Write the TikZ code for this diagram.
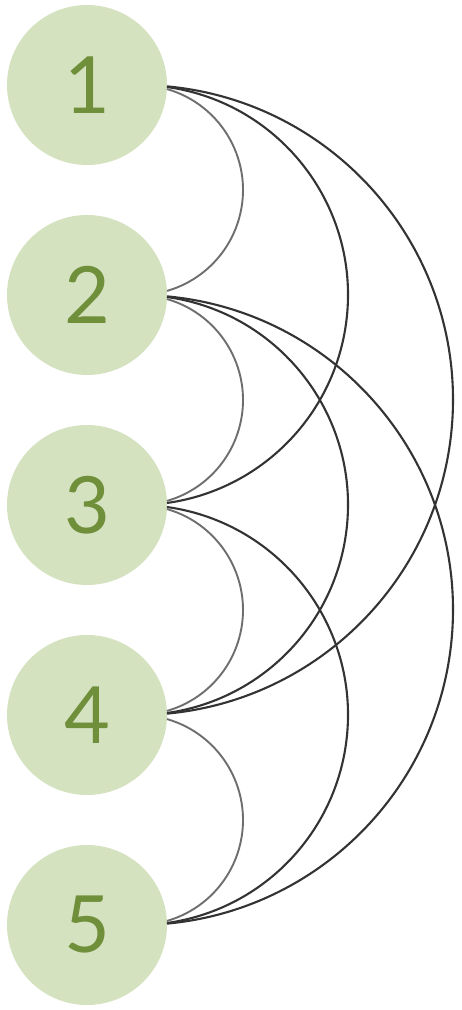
\documentclass[tikz,border=0pt]{standalone}
\usepackage{fontspec}
\setmainfont{Lato}
\usetikzlibrary{calc}
\definecolor{nodefill}{HTML}{D5E2C0}
\definecolor{nodetext}{HTML}{6F8F3A}
\definecolor{adjline}{HTML}{6E6E6E}
\definecolor{farline}{HTML}{333333}
\tikzset{
  vertex/.style={circle, fill=nodefill, draw=none, minimum size=160pt, inner sep=0pt,
    text=nodetext, font=\fontsize{79}{79}\selectfont},
  adj/.style={draw=adjline, line width=1.9pt},
  far/.style={draw=farline, line width=2.1pt},
}
\begin{document}
\begin{tikzpicture}[x=1pt,y=1pt]
\useasboundingbox (0,0) rectangle (461,1010);
\foreach \k/\yy in {1/925,2/715,3/505,4/295,5/85}{
  \node[vertex] (n\k) at (87,\yy) {\k};
}
\foreach \i/\j/\s in {1/3/far,1/4/far,2/4/far,2/5/far,3/5/far,1/2/adj,2/3/adj,3/4/adj,4/5/adj}{
  \pgfmathsetmacro\r{(\j-\i)*105}
  \pgfmathsetmacro\a{acos(29/\r)}
  \draw[\s] ($(n\i)!0.5!(n\j)+(51,0)$) ++(\a:\r) arc[start angle=\a, end angle=-\a, radius=\r];
}
\end{tikzpicture}
\end{document}
